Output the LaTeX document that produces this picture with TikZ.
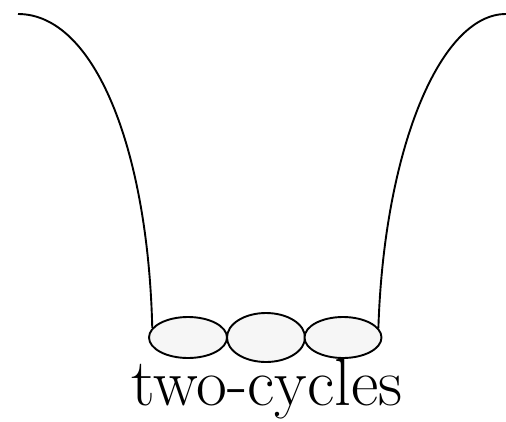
\documentclass[tikz,border=0pt]{standalone}
\usepackage{tikz}
\usetikzlibrary{shapes.geometric}
\definecolor{CycleFill}{HTML}{F6F6F6}

\begin{document}
\begin{tikzpicture}[x=1pt, y=-1pt, line width=1.9pt,
  cycle/.style={ellipse, draw=black, fill=CycleFill, inner sep=0pt}]
  \useasboundingbox (0,0) rectangle (506,421);
  % Two-cycles at the bottom
  \node[cycle, minimum width=78pt, minimum height=41pt] (cycL) at (188,337.5) {};
  \node[cycle, minimum width=78pt, minimum height=49pt] (cycM) at (266,337.5) {};
  \node[cycle, minimum width=77pt, minimum height=41pt] (cycR) at (343,337.5) {};
  % Free ends of the branches
  \coordinate (topL) at (18,14);
  \coordinate (topR) at (506,14);
  % Branches
  \draw (cycL.165) .. controls (148,150) and (95,14) .. (topL);
  \draw (cycR.15) .. controls (384,150) and (440,14) .. (topR);
  % Label
  \node[font=\fontsize{67}{74}\selectfont, anchor=base, inner sep=0pt] (lbl) at (267,405) {two-cycles};
\end{tikzpicture}
\end{document}
